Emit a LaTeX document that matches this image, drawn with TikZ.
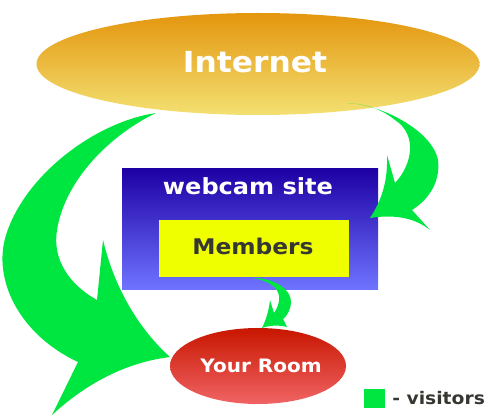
\documentclass[tikz,border=0pt]{standalone}
\usepackage{fontspec}
\usetikzlibrary{shapes.geometric}
\newfontfamily\vb[FakeStretch=1.08]{DejaVu Sans}
\definecolor{arrowgreen}{RGB}{0,230,64}
\definecolor{netTop}{RGB}{228,150,14}
\definecolor{netBot}{RGB}{243,224,114}
\definecolor{siteTop}{RGB}{30,0,165}
\definecolor{siteBot}{RGB}{110,115,255}
\definecolor{memYellow}{RGB}{240,255,0}
\definecolor{roomTop}{RGB}{200,22,0}
\definecolor{roomBot}{RGB}{240,100,100}
\definecolor{darktext}{RGB}{55,55,50}
\tikzset{
  labeltext/.style={inner sep=0pt, font=\vb\bfseries},
  greenarrow/.style={fill=arrowgreen, draw=none},
}
\begin{document}
\begin{tikzpicture}[x=0.75pt,y=-0.75pt]
\useasboundingbox (0,0) rectangle (500,417);
% Internet cloud
\node[ellipse, inner sep=0pt, minimum width=443*0.75pt, minimum height=102*0.75pt,
      top color=netTop, bottom color=netBot, draw=none] (internet) at (258,64) {};
\node[labeltext, text=white, font=\vb\bfseries\fontsize{21.75}{26}\selectfont] (internettext) at (255,62.5) {Internet};
% webcam site box
\node[rectangle, inner sep=0pt, minimum width=256*0.75pt, minimum height=120*0.75pt,
      top color=siteTop, bottom color=siteBot, draw=none] (site) at (250,229) {};
\node[labeltext, text=white, font=\vb\bfseries\fontsize{16.7}{20}\selectfont] (sitetext) at (248,186) {webcam site};
% Members box
\node[rectangle, inner sep=0pt, minimum width=190*0.75pt, minimum height=57*0.75pt,
      fill=memYellow, draw=none] (members) at (254,248.5) {};
\node[labeltext, text=darktext, font=\vb\bfseries\fontsize{16.2}{19}\selectfont] (memberstext) at (253,246.5) {Members};
% Your Room
\node[ellipse, inner sep=0pt, minimum width=176*0.75pt, minimum height=76*0.75pt,
      top color=roomTop, bottom color=roomBot, draw=none] (room) at (258,366) {};
\node[labeltext, text=white, font=\vb\bfseries\fontsize{13.9}{17}\selectfont] (roomtext) at (261,366) {Your Room};
% legend
\node[rectangle, inner sep=0pt, minimum width=21*0.75pt, minimum height=19*0.75pt,
      fill=arrowgreen, draw=none] (legendbox) at (374.5,398.5) {};
\node[labeltext, text=darktext, anchor=west, font=\vb\bfseries\fontsize{13}{16}\selectfont] (legendtext) at (392,398) {- visitors};
% big left arrow: Internet -> Your Room
\fill[greenarrow] (156,113) .. controls (95,122) and (25,175) .. (6,235)
  .. controls (-8,280) and (20,335) .. (78,362)
  -- (52,415) .. controls (90,380) and (130,362) .. (170,357)
  .. controls (140,330) and (115,290) .. (103,240)
  -- (97,300) .. controls (70,285) and (52,260) .. (57,230)
  .. controls (65,180) and (110,135) .. (156,113) -- cycle;
% right arrow: Internet -> webcam site
\fill[greenarrow] (347,103) .. controls (380,104) and (432,130) .. (438,160)
  .. controls (441,185) and (425,202) .. (412,210)
  -- (430,230) .. controls (415,218) and (395,214) .. (370,218)
  .. controls (382,200) and (388,180) .. (387,155)
  -- (395,183) .. controls (412,165) and (418,135) .. (395,120)
  .. controls (380,108) and (365,104) .. (347,103) -- cycle;
% small arrow: Members -> Your Room
\fill[greenarrow] (253,278) .. controls (275,278) and (292,290) .. (291,303)
  .. controls (290,311) and (287,316) .. (283,319)
  -- (287,327) .. controls (280,325) and (270,325) .. (262,328)
  .. controls (266,320) and (269,310) .. (270,300)
  -- (274,313) .. controls (281,303) and (282,290) .. (270,284)
  .. controls (265,281) and (259,279) .. (253,278) -- cycle;
\end{tikzpicture}
\end{document}
